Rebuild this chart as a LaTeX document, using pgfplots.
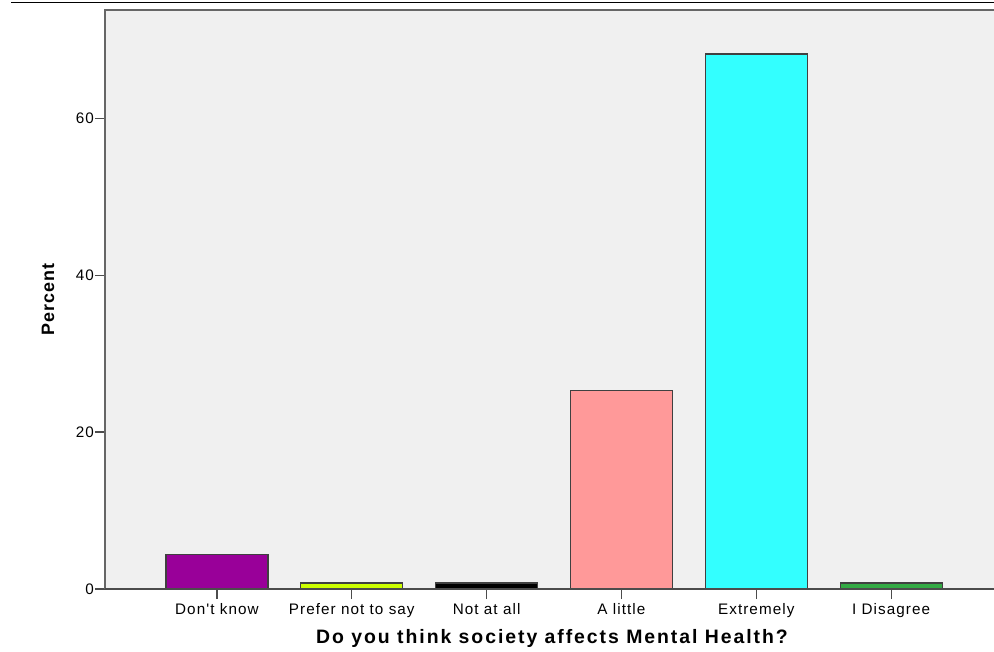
\documentclass[border=0pt]{standalone}
\usepackage{pgfplots}
\pgfplotsset{compat=1.18}
\usepackage{fontspec}
\setmainfont{Liberation Sans}
\newfontfamily\tickfont[LetterSpace=7]{Liberation Sans}
\newfontfamily\xlabfont[LetterSpace=10]{Liberation Sans}
\newfontfamily\ylabfont[LetterSpace=5]{Liberation Sans}
\definecolor{bgc}{HTML}{F0F0F0}
\definecolor{c1}{HTML}{990099}
\definecolor{c2}{HTML}{CCFF00}
\definecolor{c3}{HTML}{000000}
\definecolor{c4}{HTML}{FF9999}
\definecolor{c5}{HTML}{33FFFF}
\definecolor{c6}{HTML}{33AA44}
\begin{document}
\begin{tikzpicture}
\begin{axis}[
  at={(105bp,63bp)}, anchor=south west,
  scale only axis, width=894bp, height=579bp,
  xmin=-0.83, xmax=5.8, ymin=0, ymax=73.8,
  clip=false,
  ybar, bar width=102bp, bar shift=0pt,
  axis background/.style={fill=bgc},
  axis line style={draw=none},
  xtick={0,...,5},
  xticklabels={Don't know, Prefer not to say, Not at all, A little, Extremely, I Disagree},
  ytick={0,20,40,60},
  xtick pos=bottom, ytick pos=left,
  tick align=outside,
  major tick length=10bp,
  tick style={draw=black!70, line width=1.2bp},
  tick label style={font=\tickfont\fontsize{15.3}{18}\selectfont},
  /pgf/number format/assume math mode=true,
  xticklabel style={yshift=-0.5bp},
  yticklabel style={inner xsep=1bp},
  xlabel={Do you think society affects Mental Health?},
  ylabel={Percent},
  xlabel style={font=\xlabfont\bfseries\fontsize{19.5}{22}\selectfont, yshift=-5bp},
  ylabel style={font=\ylabfont\bfseries\fontsize{18}{20}\selectfont, yshift=17bp},
  every axis plot/.append style={draw=black!75, line width=1.2bp},
]
\addplot[fill=c1] coordinates {(0,4.4)};
\addplot[fill=c2] coordinates {(1,0.76)};
\addplot[fill=c3] coordinates {(2,0.76)};
\addplot[fill=c4] coordinates {(3,25.3)};
\addplot[fill=c5] coordinates {(4,68.2)};
\addplot[fill=c6] coordinates {(5,0.76)};
\draw[black!60, line width=1.6bp] (rel axis cs:0,0) -- (rel axis cs:0,1) -- (rel axis cs:1,1);
\draw[black!70, line width=1.2bp] (rel axis cs:0,0) -- (rel axis cs:1,0);
\end{axis}
\draw[line width=1bp] (11bp,649bp) -- (994bp,649bp);
\pgfresetboundingbox
\useasboundingbox (0,0) rectangle (994bp,652bp);
\end{tikzpicture}
\end{document}
